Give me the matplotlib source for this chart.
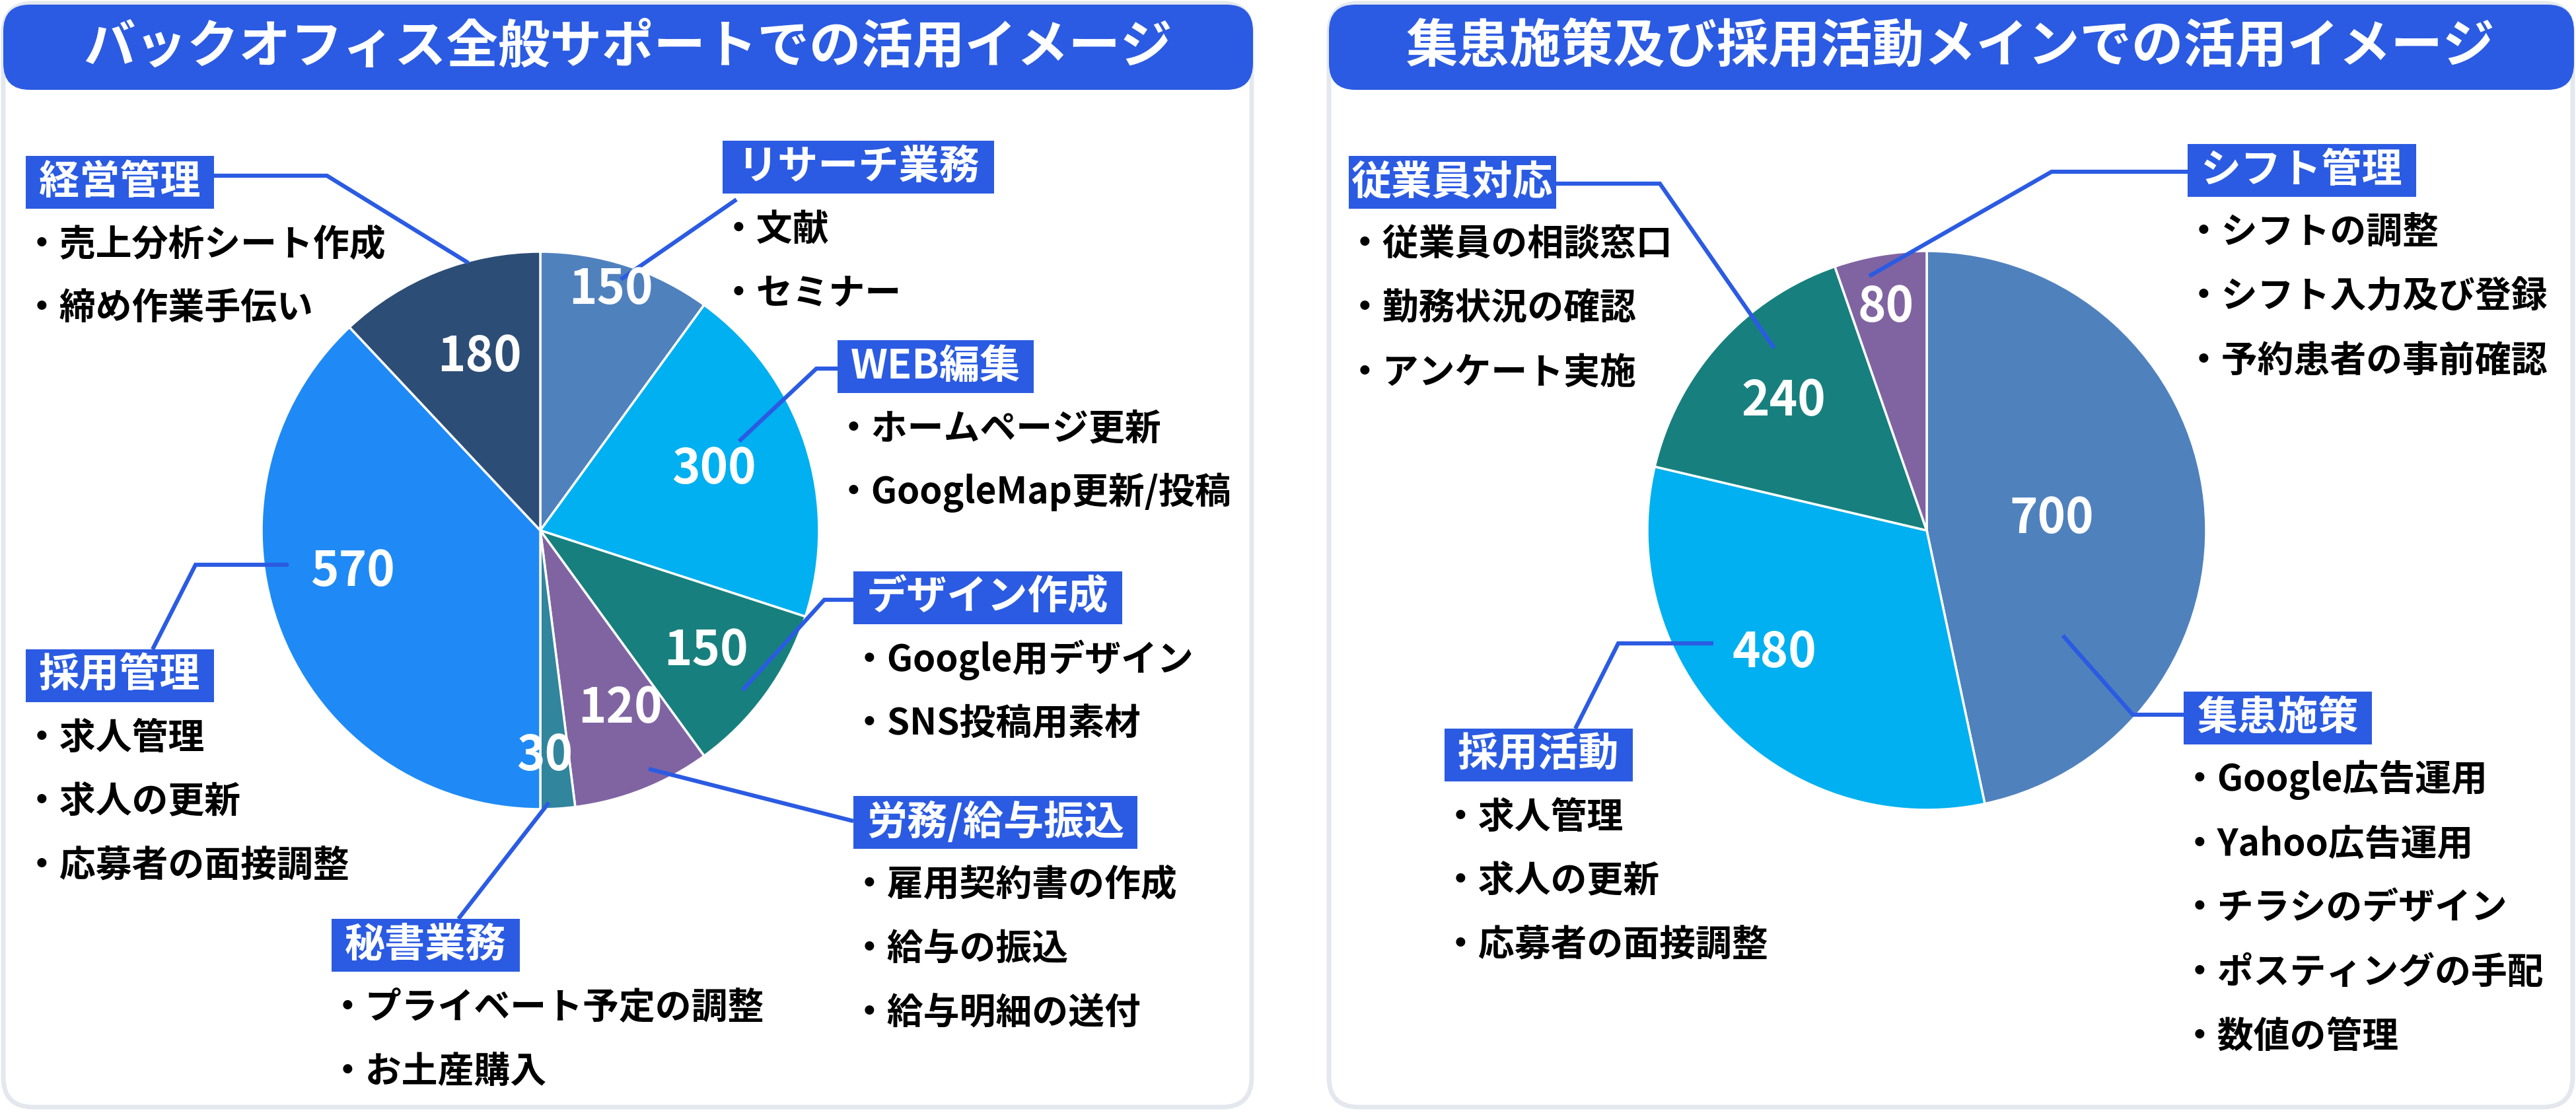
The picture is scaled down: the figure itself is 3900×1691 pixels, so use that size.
import matplotlib
matplotlib.use('Agg')
import numpy as np
import matplotlib.pyplot as plt
from matplotlib.patches import FancyBboxPatch, Rectangle

W, H = 3900, 1691
plt.rcParams['font.family'] = ['Noto Sans CJK JP', 'DejaVu Sans']

BLUE = '#2B5BE2'
BORDER = '#E4E8EE'

# ---- data: left chart ----
left_title = 'バックオフィス全般サポートでの活用イメージ'
left_labels = ['リサーチ業務', 'WEB編集', 'デザイン作成', '労務/給与振込', '秘書業務', '採用管理', '経営管理']
left_values = [150, 300, 150, 120, 30, 570, 180]
left_colors = ['#4F81BD', '#00B0F0', '#17807E', '#8064A2', '#31859C', '#1F8AF5', '#2C4D75']
left_items = [
    ['文献', 'セミナー'],
    ['ホームページ更新', 'GoogleMap更新/投稿'],
    ['Google用デザイン', 'SNS投稿用素材'],
    ['雇用契約書の作成', '給与の振込', '給与明細の送付'],
    ['プライベート予定の調整', 'お土産購入'],
    ['求人管理', '求人の更新', '応募者の面接調整'],
    ['売上分析シート作成', '締め作業手伝い'],
]

# ---- data: right chart ----
right_title = '集患施策及び採用活動メインでの活用イメージ'
right_labels = ['集患施策', '採用活動', '従業員対応', 'シフト管理']
right_values = [700, 480, 240, 80]
right_colors = ['#4F81BD', '#00B0F0', '#17807E', '#8064A2']
right_items = [
    ['Google広告運用', 'Yahoo広告運用', 'チラシのデザイン', 'ポスティングの手配', '数値の管理'],
    ['求人管理', '求人の更新', '応募者の面接調整'],
    ['従業員の相談窓口', '勤務状況の確認', 'アンケート実施'],
    ['シフトの調整', 'シフト入力及び登録', '予約患者の事前確認'],
]

# ---- layout (pixel coords, y measured from top) ----
left_layout = dict(
    panel=(5, 5, 1895, 1676), center=(818, 803), radius=422,
    lab_r=[0.90, 0.66, 0.735, 0.70, 0.81, 0.69, 0.66],
    lab_nudge=[1.7, 1.4, 0.0, 2.6, -2.4, -9.2, -2.2],
    boxes=[(1094, 253), (1268, 555), (1292, 905), (1292, 1245), (502, 1431), (39, 1023), (39, 276)],
    pads=[22, 20, 20, 20, 20, 20, 20],
    leaders=[
        [(1115, 302), (940, 423)],
        [(1268, 558), (1236, 558), (1119, 668)],
        [(1292, 908), (1248, 908), (1124, 1045)],
        [(1292, 1243), (982, 1164)],
        [(694, 1391), (831, 1215)],
        [(231, 983), (296, 855), (437, 855)],
        [(324, 266), (495, 266), (709, 398)],
    ],
)
right_layout = dict(
    panel=(2012, 5, 3895, 1676), center=(2917, 803), radius=423,
    lab_r=[0.45, 0.70, 0.69, 0.81],
    lab_nudge=[-0.9, -5.6, 0.0, 0.8],
    boxes=[(3306, 1087), (2187, 1143), (2042, 276), (3312, 258)],
    pads=[20, 20, 4, 20],
    leaders=[
        [(3306, 1082), (3229, 1082), (3123, 962)],
        [(2385, 1103), (2450, 974), (2594, 974)],
        [(2352, 278), (2513, 278), (2686, 527)],
        [(3312, 260), (3106, 260), (2830, 418)],
    ],
)

fig = plt.figure(figsize=(39, 16.91), dpi=100, facecolor='white')
ax = fig.add_axes([0, 0, 1, 1])
renderer = fig.canvas.get_renderer()


def Y(y):
    return H - y


def draw_panel(title, labels, values, colors, items, lay):
    x0, y0, x1, y1 = lay['panel']
    ax.add_patch(FancyBboxPatch((x0, Y(y1)), x1 - x0, y1 - y0,
                                boxstyle='round,pad=0,rounding_size=45',
                                fc='white', ec=BORDER, lw=5, zorder=1))
    ax.add_patch(FancyBboxPatch((x0, Y(136)), x1 - x0 + 2, 129,
                                boxstyle='round,pad=0,rounding_size=40',
                                fc=BLUE, ec='none', zorder=2))
    ax.text((x0 + x1) / 2, Y(71), title, color='white', fontsize=56.5,
            fontweight='bold', ha='center', va='center', zorder=3)

    cx, cy = lay['center']
    R = lay['radius']
    wedges, _ = ax.pie(values, colors=colors, startangle=90, counterclock=False,
                       center=(cx, Y(cy)), radius=R,
                       wedgeprops=dict(edgecolor='white', linewidth=2.5))
    for w in wedges:
        w.set_zorder(3)

    # value labels inside wedges
    for w, v, rf, nd in zip(wedges, values, lay['lab_r'], lay['lab_nudge']):
        mid = np.deg2rad((w.theta1 + w.theta2) / 2 + nd)
        ax.text(cx + rf * R * np.cos(mid), Y(cy) + rf * R * np.sin(mid), str(v),
                color='white', fontsize=52, fontweight='bold',
                ha='center', va='center', zorder=6)

    # callout boxes + bullet lists
    for lab, its, (bx, by), pad, pts in zip(labels, items, lay['boxes'], lay['pads'], lay['leaders']):
        xs = [p[0] for p in pts]
        ys = [Y(p[1]) for p in pts]
        ax.plot(xs, ys, color=BLUE, lw=4.5, solid_capstyle='butt',
                solid_joinstyle='miter', zorder=5)
        t = ax.text(bx + pad, Y(by), lab, color='white', fontsize=44,
                    fontweight='bold', ha='left', va='center', zorder=8)
        tw = t.get_window_extent(renderer).width
        ax.add_patch(Rectangle((bx, Y(by) - 40), tw + 2 * pad, 80,
                               fc=BLUE, ec='none', zorder=7))
        for i, it in enumerate(its):
            ax.text(bx - 3, Y(by + 94 + 97 * i), '・' + it, color='black',
                    fontsize=39.5, fontweight='bold', ha='left', va='center', zorder=4)


draw_panel(left_title, left_labels, left_values, left_colors, left_items, left_layout)
draw_panel(right_title, right_labels, right_values, right_colors, right_items, right_layout)

ax.set_xlim(0, W)
ax.set_ylim(0, H)
ax.set_aspect('equal')
ax.axis('off')

fig.savefig('out.png', dpi=100, facecolor='white')
